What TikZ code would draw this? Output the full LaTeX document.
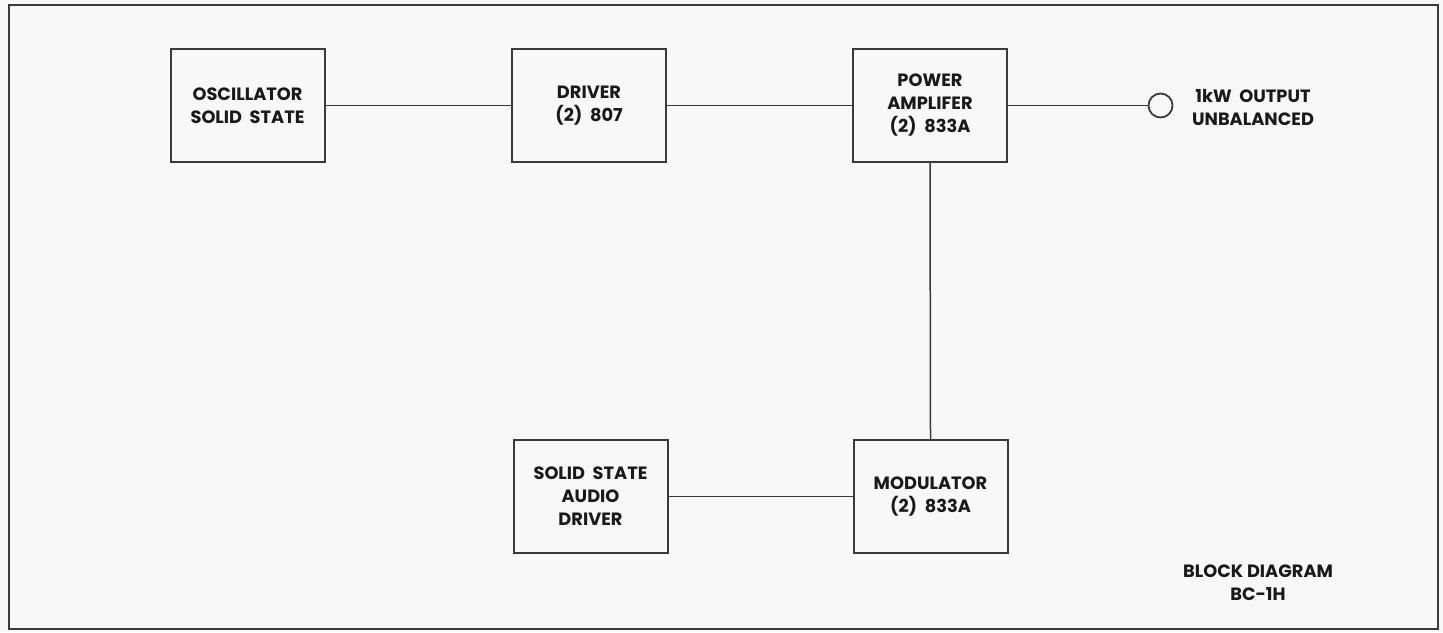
\documentclass[tikz,border=0pt]{standalone}
\usepackage{fontspec}
\setmainfont{Poppins}
\usetikzlibrary{positioning}
\definecolor{paper}{HTML}{F8F8F8}
\definecolor{ink}{HTML}{3A3A3A}
\tikzset{
  blk/.style={draw=ink, line width=1pt, minimum width=77pt, minimum height=56.5pt,
    inner sep=0pt, align=center, text=black!90, font=\bfseries\fontsize{8.9}{11.5}\selectfont},
  lbl/.style={align=center, inner sep=0pt, text=black!90, font=\bfseries\fontsize{8.9}{11.5}\selectfont},
  wire/.style={draw=ink, line width=0.75pt}
}

\begin{document}
\begin{tikzpicture}[x=0.5pt, y=-0.5pt] %%%%% BC-1H block diagram

	\fill [paper] (0,0) rectangle (1443,632);%background
	\useasboundingbox (0,0) rectangle (1443,632);
	\draw [ink, line width=1.3pt] (9,5) rectangle (1438,629);%frame

	\node [blk] (osc) at (247.5,105.5) {OSCILLATOR\\SOLID~ STATE};
	\node [blk] (drv) at (589,105.5) {DRIVER\\(2)~~807};
	\node [blk] (pa) at (930,105.5) {POWER\\AMPLIFER\\(2)~~833A};
	\node [blk] (aud) at (590.5,496.5) {SOLID~ STATE\\AUDIO\\DRIVER};
	\node [blk] (mod) at (930.5,496.5) {MODULATOR\\(2)~~833A};

	\node [draw=ink, line width=0.9pt, circle, minimum size=12pt, inner sep=0pt] (jack) at (1160.5,105.5) {};%output jack
	\node [lbl] (out) at (1253,107) {1kW~~OUTPUT\\UNBALANCED};
	\node [lbl] (title) at (1258,583) {BLOCK DIAGRAM\\BC-1H};

	\draw [wire] (osc.east)--(drv.west);
	\draw [wire] (drv.east)--(pa.west);
	\draw [wire] (pa.east)--(jack.west);
	\draw [wire] (pa.south)--(mod.north);
	\draw [wire] (aud.east)--(mod.west);

\end{tikzpicture}
\end{document}
